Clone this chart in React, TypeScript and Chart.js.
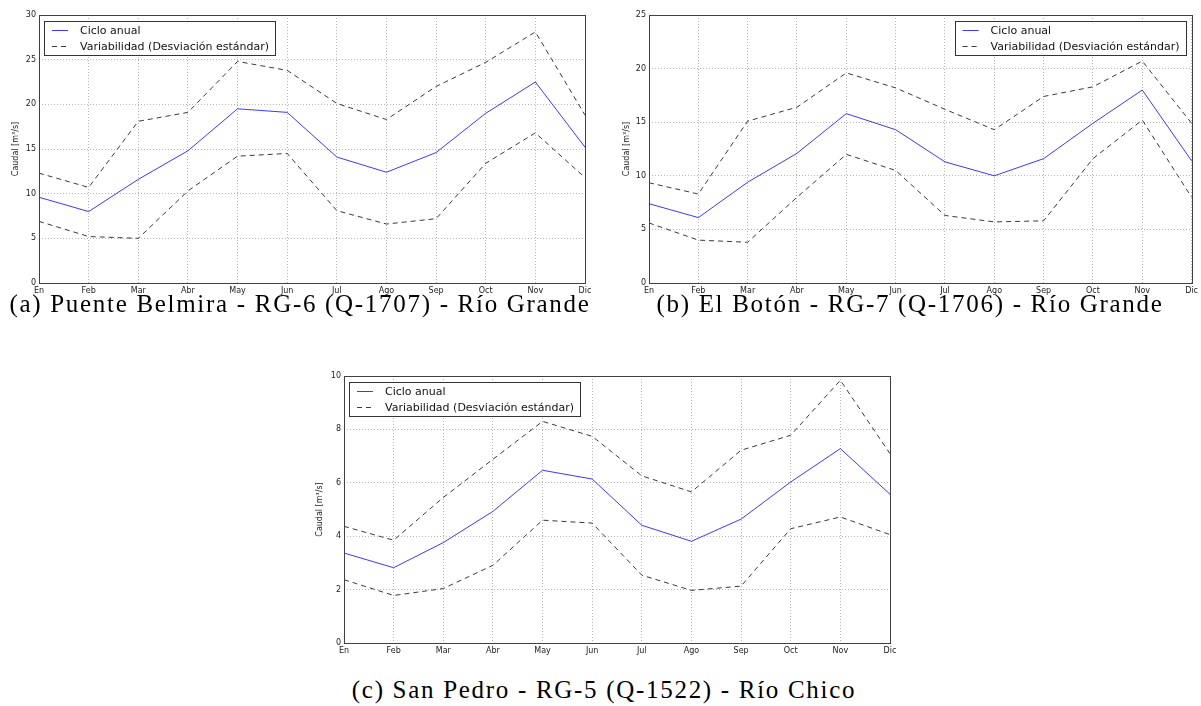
import React, { useEffect, useRef } from 'react';
import { Chart, registerables } from 'chart.js';

Chart.register(...registerables);

const months = ['En', 'Feb', 'Mar', 'Abr', 'May', 'Jun', 'Jul', 'Ago', 'Sep', 'Oct', 'Nov', 'Dic'];

const belmiraMean = [9.6, 8.0, 11.6, 14.8, 19.5, 19.1, 14.1, 12.4, 14.6, 19.0, 22.5, 15.2];
const belmiraUpper = [12.3, 10.7, 18.1, 19.1, 24.8, 23.8, 20.1, 18.3, 22.0, 24.7, 28.1, 18.8];
const belmiraLower = [6.9, 5.2, 5.0, 10.3, 14.2, 14.5, 8.1, 6.6, 7.2, 13.4, 16.8, 11.8];

const botonMean = [7.4, 6.1, 9.4, 12.1, 15.8, 14.3, 11.3, 10.0, 11.6, 14.9, 18.0, 11.4];
const botonUpper = [9.35, 8.3, 15.1, 16.4, 19.6, 18.2, 16.2, 14.3, 17.4, 18.3, 20.7, 14.9];
const botonLower = [5.6, 4.0, 3.8, 8.0, 12.0, 10.5, 6.3, 5.7, 5.8, 11.6, 15.2, 8.0];

const pedroMean = [3.37, 2.82, 3.76, 4.93, 6.47, 6.14, 4.41, 3.81, 4.64, 6.03, 7.28, 5.57];
const pedroUpper = [4.37, 3.85, 5.45, 6.88, 8.3, 7.74, 6.26, 5.66, 7.22, 7.78, 9.84, 7.09];
const pedroLower = [2.37, 1.78, 2.04, 2.91, 4.6, 4.49, 2.54, 1.97, 2.13, 4.28, 4.72, 4.06];

const legendLabels = ['Ciclo anual', 'Variabilidad (Desviación estándar)'];
const yTitle = 'Caudal [m³/s]';

const captionA = '(a) Puente Belmira - RG-6 (Q-1707) - Río Grande';
const captionB = '(b) El Botón - RG-7 (Q-1706) - Río Grande';
const captionC = '(c) San Pedro - RG-5 (Q-1522) - Río Chico';

const MEAN_COLOR = '#3a3aff';
const DASH_COLOR = '#3a3a3a';
const DASH = [5, 4];

const framePlugin = {
  id: 'frameAndLegend',
  afterDraw(chart: any, _args: any, opts: any) {
    const { ctx, chartArea } = chart;
    const { left, right, top, bottom } = chartArea;
    ctx.save();
    ctx.strokeStyle = '#404040';
    ctx.lineWidth = 1;
    ctx.setLineDash([]);
    ctx.strokeRect(Math.round(left) + 0.5, Math.round(top) + 0.5, Math.round(right - left), Math.round(bottom - top));

    // legend box
    ctx.font = '11px "DejaVu Sans"';
    const tw = Math.max(...legendLabels.map((l) => ctx.measureText(l).width));
    const w = 36 + tw + 6;
    const h = 34;
    const x0 = opts.align === 'right' ? right - 6 - w : left + 5;
    const y0 = top + 6;
    ctx.fillStyle = '#ffffff';
    ctx.fillRect(x0, y0, w, h);
    ctx.strokeStyle = '#333333';
    ctx.strokeRect(Math.round(x0) + 0.5, Math.round(y0) + 0.5, Math.round(w), h);

    const rows = [y0 + 9, y0 + 25];
    ctx.beginPath();
    ctx.strokeStyle = MEAN_COLOR;
    ctx.moveTo(x0 + 8, rows[0] + 0.5);
    ctx.lineTo(x0 + 24, rows[0] + 0.5);
    ctx.stroke();
    ctx.beginPath();
    ctx.strokeStyle = DASH_COLOR;
    ctx.setLineDash(DASH);
    ctx.moveTo(x0 + 8, rows[1] + 0.5);
    ctx.lineTo(x0 + 24, rows[1] + 0.5);
    ctx.stroke();
    ctx.setLineDash([]);

    ctx.fillStyle = '#111111';
    ctx.textBaseline = 'middle';
    ctx.textAlign = 'left';
    ctx.fillText(legendLabels[0], x0 + 36, rows[0] + 1);
    ctx.fillText(legendLabels[1], x0 + 36, rows[1] + 1);
    ctx.restore();
  },
};

type PanelProps = {
  left: number;
  top: number;
  width: number;
  height: number;
  mean: number[];
  upper: number[];
  lower: number[];
  max: number;
  step: number;
  areaLeft: number;
  areaTop: number;
  areaRight: number;
  titlePad: number;
  legendAlign: 'left' | 'right';
};

function Panel(p: PanelProps) {
  const ref = useRef<HTMLCanvasElement | null>(null);
  useEffect(() => {
    if (!ref.current) return;
    const tickFont = { size: 8, family: '"DejaVu Sans"' };
    const chart = new Chart(ref.current, {
      type: 'line',
      data: {
        labels: months,
        datasets: [
          {
            label: legendLabels[0],
            data: p.mean,
            borderColor: MEAN_COLOR,
            borderWidth: 1,
            pointRadius: 0,
            tension: 0,
            fill: false,
          },
          {
            label: legendLabels[1],
            data: p.upper,
            borderColor: DASH_COLOR,
            borderWidth: 1,
            borderDash: DASH,
            pointRadius: 0,
            tension: 0,
            fill: false,
          },
          {
            label: legendLabels[1] + ' ',
            data: p.lower,
            borderColor: DASH_COLOR,
            borderWidth: 1,
            borderDash: DASH,
            pointRadius: 0,
            tension: 0,
            fill: false,
          },
        ],
      },
      options: {
        animation: false,
        responsive: false,
        devicePixelRatio: 1,
        layout: {
          padding: { top: p.areaTop, right: p.width - p.areaRight, bottom: 0, left: 0 },
        },
        plugins: {
          legend: { display: false },
          tooltip: { enabled: false },
          frameAndLegend: { align: p.legendAlign },
        } as any,
        scales: {
          x: {
            type: 'category',
            offset: false,
            grid: { color: '#b5b5b5', lineWidth: 1, drawTicks: false },
            border: { display: false, dash: [1, 2] },
            ticks: { font: tickFont, color: '#222', padding: 3, maxRotation: 0, autoSkip: false },
            afterFit: (s: any) => {
              s.height = p.height - 283;
            },
          },
          y: {
            min: 0,
            max: p.max,
            grid: { color: '#b5b5b5', lineWidth: 1, drawTicks: false },
            border: { display: false, dash: [1, 2] },
            ticks: { stepSize: p.step, font: tickFont, color: '#222', padding: 3 },
            title: {
              display: true,
              text: yTitle,
              font: { size: 8, family: '"DejaVu Sans"' },
              color: '#222',
              padding: { top: p.titlePad, bottom: 0 },
            },
            afterFit: (s: any) => {
              s.width = p.areaLeft;
            },
          },
        },
      },
      plugins: [framePlugin],
    });
    return () => chart.destroy();
  }, []);
  return (
    <canvas
      ref={ref}
      width={p.width}
      height={p.height}
      style={{ position: 'absolute', left: p.left, top: p.top, width: p.width, height: p.height }}
    />
  );
}

const captionStyle = (cx: number, top: number): React.CSSProperties => ({
  position: 'absolute',
  left: cx,
  top,
  transform: 'translateX(-50%)',
  whiteSpace: 'nowrap',
  fontFamily: '"Liberation Serif", serif',
  fontSize: 25,
  letterSpacing: '1.7px',
  lineHeight: '25px',
  color: '#000',
});

export default function App() {
  return (
    <div style={{ position: 'absolute', left: 0, top: 0, width: 1201, height: 706, background: '#fff', overflow: 'hidden' }}>
      <Panel
        left={0}
        top={0}
        width={600}
        height={300}
        mean={belmiraMean}
        upper={belmiraUpper}
        lower={belmiraLower}
        max={30}
        step={5}
        areaLeft={39}
        areaTop={15}
        areaRight={585}
        titlePad={11}
        legendAlign="left"
      />
      <Panel
        left={600}
        top={0}
        width={601}
        height={300}
        mean={botonMean}
        upper={botonUpper}
        lower={botonLower}
        max={25}
        step={5}
        areaLeft={49}
        areaTop={15}
        areaRight={596}
        titlePad={22}
        legendAlign="right"
      />
      <Panel
        left={300}
        top={360}
        width={600}
        height={300}
        mean={pedroMean}
        upper={pedroUpper}
        lower={pedroLower}
        max={10}
        step={2}
        areaLeft={44}
        areaTop={16}
        areaRight={590}
        titlePad={15}
        legendAlign="left"
      />
      <div style={captionStyle(300, 291)}>{captionA}</div>
      <div style={captionStyle(910, 291)}>{captionB}</div>
      <div style={captionStyle(604, 677)}>{captionC}</div>
    </div>
  );
}
